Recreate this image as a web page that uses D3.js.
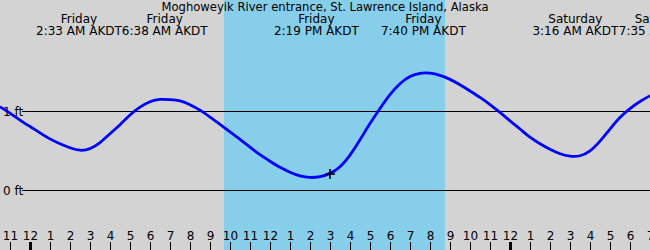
<!DOCTYPE html>
<html>
<head>
<meta charset="utf-8">
<title>Tide chart</title>
<script src="https://cdn.jsdelivr.net/npm/d3@7"></script>
<style>
  body { margin: 0; }
  text { font-family: "DejaVu Sans", sans-serif; font-size: 12px; fill: #000; }
</style>
</head>
<body>
<svg width="650" height="250" id="mainsvg"></svg>
<script>
    const title = 'Moghoweyik River entrance, St. Lawrence Island, Alaska';

    // hours counted from Friday 00:00 AKDT, heights in feet
    const tideHours = [-1.5,-1,-0.5,0,0.5,1,1.5,2,2.5,3,3.5,4,4.5,5,5.5,6,6.5,7,7.5,8,8.5,9,9.5,10,10.5,
        11,11.5,12,12.5,13,13.5,14,14.5,15,15.5,16,16.5,17,17.5,18,18.5,19,19.5,20,20.5,21,21.5,22,22.5,
        23,23.5,24,24.5,25,25.5,26,26.5,27,27.5,28,28.5,29,29.5,30,30.5,31];
    const tideFeet = [1.06,0.98,0.89,0.81,0.73,0.65,0.59,0.54,0.50,0.52,0.60,0.72,0.83,0.96,1.06,1.13,1.16,1.15,1.14,1.09,1.02,
        0.93,0.84,0.74,0.65,0.55,0.45,0.37,0.29,0.23,0.18,0.16,0.17,0.21,0.29,0.44,0.64,0.85,1.04,1.22,1.36,1.45,1.49,
        1.49,1.46,1.41,1.34,1.26,1.18,1.09,0.99,0.88,0.78,0.67,0.59,0.52,0.46,0.43,0.43,0.49,0.62,0.78,0.93,1.04,1.13,1.20];

    // high / low tide times
    const extremeDays = ['Friday','Friday','Friday','Friday','Saturday','Saturday'];
    const extremeTimes = ['2:33 AM','6:38 AM','2:19 PM','7:40 PM','3:16 AM','7:35 AM'];

    const hourTicks = [-1,0,1,2,3,4,5,6,7,8,9,10,11,12,13,14,15,16,17,18,19,20,21,22,23,24,25,26,27,28,29,30,31];
    const hourLabels = ['11','12','1','2','3','4','5','6','7','8','9','10','11','12','1','2','3','4','5','6','7','8','9','10','11','12','1','2','3','4','5','6','7'];
    const feetLines = [0, 1];

    const daylight = [9.7, 20.75];   // sunrise / sunset
    const nowHour = 15;

    const svg = d3.select('#mainsvg');
    const width = +svg.attr('width');
    const height = +svg.attr('height');

    const xScale = d3.scaleLinear().domain([-1.5, 31]).range([0, width]);
    const yScale = d3.scaleLinear().domain([0, 1]).range([190.5, 111.5]);

    svg.append('rect').attr('width', width).attr('height', height).attr('fill', '#d3d3d3');
    svg.append('rect')
        .attr('x', xScale(daylight[0])).attr('width', xScale(daylight[1]) - xScale(daylight[0]))
        .attr('height', height).attr('fill', '#87ceeb');

    // reference lines
    feetLines.forEach(f => {
        svg.append('line')
            .attr('x1', 22).attr('x2', width)
            .attr('y1', yScale(f)).attr('y2', yScale(f))
            .attr('stroke', '#000').attr('stroke-width', 1);
        svg.append('text').text(f + ' ft')
            .attr('x', 3).attr('y', yScale(f) + 4);
    });

    // tide curve
    const line = d3.line()
        .x((d, i) => xScale(tideHours[i]))
        .y(d => yScale(d))
        .curve(d3.curveBasis);
    svg.append('path').datum(tideFeet)
        .attr('d', line)
        .attr('fill', 'none').attr('stroke', '#0000ff').attr('stroke-width', 2.8);

    // current time marker
    const nowX = xScale(nowHour);
    const nowY = yScale(tideFeet[tideHours.indexOf(nowHour)]);
    svg.append('path')
        .attr('d', `M${nowX - 5},${nowY}H${nowX + 5}M${nowX},${nowY - 5}V${nowY + 5}`)
        .attr('stroke', '#000').attr('stroke-width', 1.5);

    // hour axis
    const xAxis = d3.axisTop(xScale)
        .tickValues(hourTicks)
        .tickFormat((d, i) => hourLabels[i])
        .tickSize(8).tickPadding(2);
    const ax = svg.append('g').attr('transform', `translate(0,${height})`).call(xAxis);
    ax.select('.domain').remove();
    ax.selectAll('.tick line').attr('stroke', '#000')
        .attr('stroke-width', d => (d % 24 === 0 ? 3 : 1));
    ax.selectAll('.tick text').attr('fill', '#000');
    ax.attr('font-size', null).attr('font-family', null);

    // title
    svg.append('text').text(title)
        .attr('x', width / 2).attr('y', 11).attr('text-anchor', 'middle')
        .style('font-size', '11.6px');

    // tide time labels, pushed apart where they collide
    const toHour = (day, s) => {
        const [hm, ap] = s.split(' ');
        let [h, m] = hm.split(':').map(Number);
        if (h === 12) h = 0;
        if (ap === 'PM') h += 12;
        return (day === 'Saturday' ? 24 : 0) + h + m / 60;
    };
    const labels = extremeTimes.map((t, i) => {
        const g = svg.append('g');
        g.append('text').text(extremeDays[i]).attr('y', 23).attr('text-anchor', 'middle');
        const tt = g.append('text').text(t + ' AKDT').attr('y', 35).attr('text-anchor', 'middle');
        return { g, x: xScale(toHour(extremeDays[i], t)), w: tt.node().getComputedTextLength() };
    });
    for (let i = 1; i < labels.length; i++) {
        const a = labels[i - 1], b = labels[i];
        const overlap = (a.w + b.w) / 2 - (b.x - a.x);
        if (overlap > 0) { a.x -= overlap / 2; b.x += overlap / 2; }
    }
    labels.forEach(l => l.g.attr('transform', `translate(${l.x},0)`));
</script>
</body>
</html>
